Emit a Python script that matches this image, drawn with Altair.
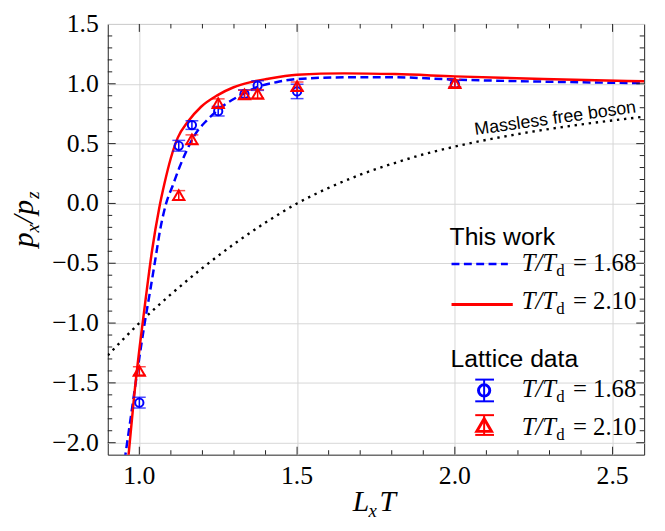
import altair as alt
import pandas as pd

SERIF = "'Liberation Serif', 'Times New Roman', Times, serif"
SANS = "'Liberation Sans', Arial, Helvetica, sans-serif"
BLUE = "#0000ff"
RED = "#ff0000"

X_DOMAIN = [0.9, 2.6]
Y_DOMAIN = [-2.1, 1.5]

# "This work" curves
fit168_x = [0.948, 0.956, 0.975, 0.995, 1.017, 1.035, 1.05, 1.066, 1.085, 1.106, 1.127, 1.148,
            1.174, 1.216, 1.268, 1.32, 1.372, 1.434, 1.5, 1.65, 1.81, 2.0, 2.28, 2.6]
fit168_y = [-2.25, -2.1, -1.75, -1.38, -1.0, -0.72, -0.48, -0.22, 0.0, 0.15, 0.30, 0.43,
            0.565, 0.70, 0.82, 0.903, 0.971, 1.013, 1.04, 1.054, 1.054, 1.035, 1.018, 1.005]
fit210_x = [0.958, 0.966, 0.984, 1.002, 1.02, 1.04, 1.063, 1.08, 1.1, 1.122, 1.153, 1.195,
            1.247, 1.299, 1.35, 1.403, 1.5, 1.65, 1.81, 2.0, 2.28, 2.6]
fit210_y = [-2.3, -2.1, -1.6, -1.18, -0.80, -0.40, -0.04, 0.17, 0.38, 0.55, 0.68, 0.806,
            0.903, 0.971, 1.012, 1.04, 1.076, 1.087, 1.081, 1.062, 1.04, 1.021]

# Massless free boson
free_x = [0.9, 1.0, 1.1, 1.2, 1.3, 1.4, 1.5, 1.6, 1.7, 1.8, 1.9, 2.0, 2.2, 2.4, 2.6]
free_y = [-1.27, -1.0, -0.76, -0.54, -0.34, -0.16, 0.0, 0.13, 0.24, 0.33, 0.41, 0.475, 0.58, 0.66, 0.725]

# Lattice data
lat168_x = [1.0, 1.125, 1.1667, 1.25, 1.3333, 1.375, 1.5, 2.0]
lat168_y = [-1.665, 0.482, 0.655, 0.771, 0.915, 0.985, 0.936, 0.999]
lat168_e = [0.045, 0.045, 0.036, 0.04, 0.035, 0.04, 0.06, 0.03]
lat210_x = [1.0, 1.125, 1.1667, 1.25, 1.3333, 1.375, 1.5, 2.0]
lat210_y = [-1.40, 0.069, 0.536, 0.839, 0.911, 0.916, 0.98, 1.005]
lat210_e = [0.035, 0.038, 0.037, 0.035, 0.035, 0.035, 0.035, 0.03]

# ticks and tick labels
x_major = [1.0, 1.5, 2.0, 2.5]
x_labels = ["1.0", "1.5", "2.0", "2.5"]
x_minor = [1.1, 1.2, 1.3, 1.4, 1.6, 1.7, 1.8, 1.9, 2.1, 2.2, 2.3, 2.4]
y_major = [-2.0, -1.5, -1.0, -0.5, 0.0, 0.5, 1.0, 1.5]
y_labels = ["\u22122.0", "\u22121.5", "\u22121.0", "\u22120.5", "0.0", "0.5", "1.0", "1.5"]
y_minor = [-1.9, -1.8, -1.7, -1.6, -1.4, -1.3, -1.2, -1.1, -0.9, -0.8, -0.7, -0.6,
           -0.4, -0.3, -0.2, -0.1, 0.1, 0.2, 0.3, 0.4, 0.6, 0.7, 0.8, 0.9, 1.1, 1.2, 1.3, 1.4]

W, H = 543, 436
xs = alt.Scale(domain=X_DOMAIN, nice=False, zero=False)
ys = alt.Scale(domain=Y_DOMAIN, nice=False, zero=False)

axis_x = alt.Axis(values=x_major, ticks=False, domain=False, grid=True, labels=False, title=None)
axis_y = alt.Axis(values=y_major, ticks=False, domain=False, grid=True, labels=False, title=None)


def df_xy(xv, yv):
    return pd.DataFrame({"x": xv, "y": yv})


def lat_df(xv, yv, ev):
    return pd.DataFrame({"x": xv, "y": yv,
                         "lo": [a - b for a, b in zip(yv, ev)],
                         "hi": [a + b for a, b in zip(yv, ev)]})


def X(f="x"):
    return alt.X(f"{f}:Q", scale=xs, axis=axis_x)


def Y(f="y"):
    return alt.Y(f"{f}:Q", scale=ys, axis=axis_y)


free = alt.Chart(df_xy(free_x, free_y)).mark_line(
    color="black", strokeWidth=2.4, strokeDash=[2.4, 4.8], clip=True, interpolate="monotone"
).encode(x=X(), y=Y())

fit168 = alt.Chart(df_xy(fit168_x, fit168_y)).mark_line(
    color=BLUE, strokeWidth=2.5, strokeDash=[8, 4.5], clip=True, interpolate="monotone"
).encode(x=X(), y=Y())
fit210 = alt.Chart(df_xy(fit210_x, fit210_y)).mark_line(
    color=RED, strokeWidth=2.5, clip=True, interpolate="monotone"
).encode(x=X(), y=Y())


def lattice(xv, yv, ev, color, shape, size):
    d = alt.Chart(lat_df(xv, yv, ev))
    bar = d.mark_rule(color=color, strokeWidth=1.5).encode(x=X(), y=Y("lo"), y2="hi:Q")
    cap1 = d.mark_tick(color=color, orient="horizontal", size=13, thickness=1.5).encode(x=X(), y=Y("lo"))
    cap2 = d.mark_tick(color=color, orient="horizontal", size=13, thickness=1.5).encode(x=X(), y=Y("hi"))
    pt = d.mark_point(color=color, shape=shape, size=size, filled=False, strokeWidth=2, opacity=1).encode(x=X(), y=Y())
    return [bar, cap1, cap2, pt]


lat168 = lattice(lat168_x, lat168_y, lat168_e, BLUE, "circle", 70)
lat210 = lattice(lat210_x, lat210_y, lat210_e, RED, "triangle-up", 130)

# frame ticks (inward)
TC = "#222222"


def xt(vals, ln):
    d = alt.Chart(pd.DataFrame({"v": vals}))
    return [d.mark_rule(color=TC, strokeWidth=1).encode(x=X("v"), y=alt.value(H), y2=alt.value(H - ln)),
            d.mark_rule(color=TC, strokeWidth=1).encode(x=X("v"), y=alt.value(0), y2=alt.value(ln))]


def yt(vals, ln):
    d = alt.Chart(pd.DataFrame({"v": vals}))
    return [d.mark_rule(color=TC, strokeWidth=1).encode(y=Y("v"), x=alt.value(0), x2=alt.value(ln)),
            d.mark_rule(color=TC, strokeWidth=1).encode(y=Y("v"), x=alt.value(W), x2=alt.value(W - ln))]


ticks = xt(x_major, 8) + xt(x_minor, 4.5) + yt(y_major[:-1], 8) + yt(y_minor, 4.5)

# tick labels
xlab = alt.Chart(pd.DataFrame({"v": x_major, "t": x_labels})).mark_text(
    font=SERIF, fontSize=26, align="center", baseline="alphabetic", color="black"
).encode(x=X("v"), y=alt.value(H + 30), text="t:N")
ylab = alt.Chart(pd.DataFrame({"v": y_major, "t": y_labels})).mark_text(
    font=SERIF, fontSize=26, align="right", baseline="middle", color="black"
).encode(y=Y("v"), x=alt.value(-9), text="t:N")

one = alt.Chart(pd.DataFrame({"a": [0]}))


def txt(s, x, y, font=SERIF, size=25, style="normal", align="left", angle=0, baseline="alphabetic"):
    return one.mark_text(text=s, font=font, fontSize=size, fontStyle=style, align=align,
                         baseline=baseline, angle=angle, color="black").encode(
        x=alt.value(x), y=alt.value(y))


def ttd(x0, base, value):
    return [txt("T/T", x0, base, style="italic"),
            txt("d", x0 + 35, base + 5, size=17),
            txt("= " + value, x0 + 116, base, align="right")]


legend = []
legend.append(txt("This work", 346, 224, font=SANS, size=25))
legend.append(one.mark_rule(color=BLUE, strokeWidth=2.5, strokeDash=[8, 4.5]).encode(
    x=alt.value(348), x2=alt.value(405), y=alt.value(243)))
legend += ttd(419, 250, "1.68")
legend.append(one.mark_rule(color=RED, strokeWidth=3).encode(
    x=alt.value(348), x2=alt.value(410), y=alt.value(284)))
legend += ttd(419, 289, "2.10")
legend.append(txt("Lattice data", 347, 347, font=SANS, size=25))
for yc, col, shp, sz, half in [(371, BLUE, "circle", 130, 11), (406, RED, "triangle-up", 220, 10)]:
    legend.append(one.mark_rule(color=col, strokeWidth=2).encode(
        x=alt.value(381), y=alt.value(yc - half), y2=alt.value(yc + half)))
    for yy in (yc - half, yc + half):
        legend.append(one.mark_rule(color=col, strokeWidth=2).encode(
            x=alt.value(372), x2=alt.value(391), y=alt.value(yy)))
    legend.append(one.mark_point(color=col, shape=shp, size=sz, filled=False, strokeWidth=3, opacity=1).encode(
        x=alt.value(381), y=alt.value(yc)))
legend += ttd(419, 378, "1.68")
legend += ttd(419, 416, "2.10")

legend.append(txt("Massless free boson", 453, 96, font=SANS, size=18, align="center",
                  angle=352, baseline="middle"))

titles = [
    txt("L", 248, 493, size=30, style="italic"),
    txt("x", 264, 499, size=19, style="italic"),
    txt("T", 275, 493, size=30, style="italic"),
    txt("p", -76, 226, size=30, style="italic", angle=270),
    txt("x", -70, 211, size=19, style="italic", angle=270),
    txt("/", -76, 202, size=30, style="italic", angle=270),
    txt("p", -76, 193, size=30, style="italic", angle=270),
    txt("z", -70, 177, size=19, style="italic", angle=270),
]

chart = alt.layer(
    free, fit168, fit210, *lat168, *lat210, *ticks, xlab, ylab, *legend, *titles
).properties(
    width=W, height=H, autosize="none",
    padding={"left": 101, "top": 13, "right": 13, "bottom": 66}
).configure_view(
    stroke="#222222", strokeWidth=1
).configure_axis(
    gridColor="#d6d6d6", gridWidth=1
)

chart.save("out.html", embed_options={"renderer": "svg", "actions": False})
